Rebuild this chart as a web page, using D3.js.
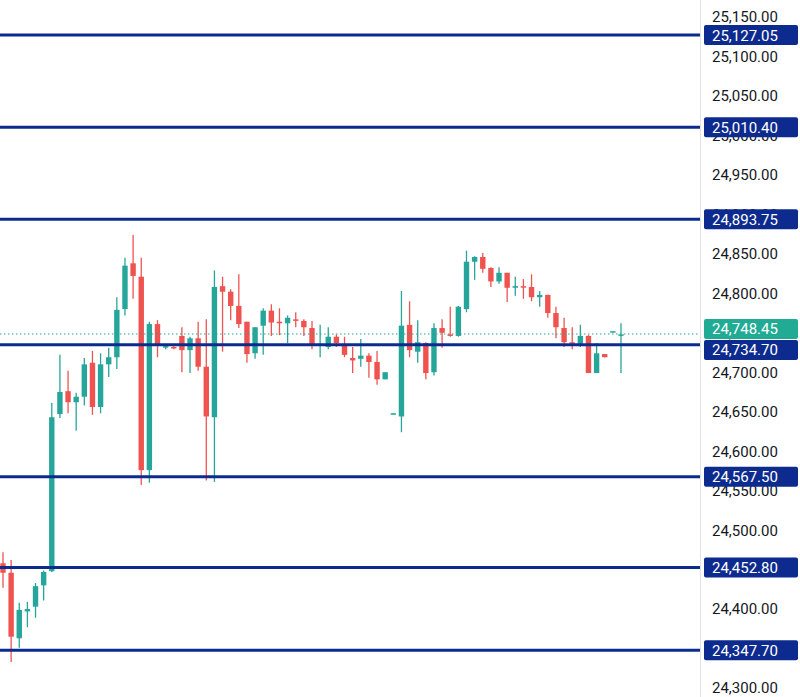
<!DOCTYPE html>
<html>
<head>
<meta charset="utf-8">
<script src="https://cdn.jsdelivr.net/npm/d3@7"></script>
<style>
  body { margin: 0; background: #fff; }
  text { font-family: Roboto, "Noto Sans", sans-serif; }
</style>
</head>
<body>
<svg id="chart" width="800" height="697"></svg>
<script>
// candles: [open, high, low, close]
var opens  = [24458,24446,24363,24397,24403,24430,24448,24647,24676,24662,24669,24712,24656,24710,24719,24780,24838,24821,24576,24761,24732,24732,24746,24728,24743,24707,24643,24809,24802,24784,24764,24724,24759,24778,24764,24762,24767,24765,24756,24734,24732,24745,24736,24718,24717,24721,24713,24691,24647,24644,24760,24726,24737,24700,24756,24748,24746,24780,24840,24846,24832,24815,24826,24807,24809,24808,24795,24798,24775,24756,24738,24736,24746,24699,24723,24751,24747];
var highs  = [24472,24462,24408,24409,24433,24449,24661,24722,24702,24674,24718,24727,24724,24731,24795,24845,24874,24845,24764,24766,24736,24733,24757,24745,24764,24767,24829,24821,24805,24824,24764,24757,24781,24786,24781,24772,24776,24767,24765,24760,24757,24748,24745,24732,24742,24724,24727,24700,24648,24803,24790,24766,24738,24762,24767,24783,24784,24854,24847,24851,24833,24833,24826,24821,24818,24824,24803,24798,24783,24769,24757,24760,24747,24737,24723,24752,24762];
var lows   = [24427,24333,24351,24377,24389,24411,24447,24642,24648,24626,24658,24646,24648,24694,24704,24772,24793,24557,24560,24719,24729,24729,24700,24699,24702,24563,24561,24726,24766,24756,24712,24717,24722,24746,24747,24737,24757,24746,24729,24719,24729,24732,24719,24699,24707,24693,24684,24691,24647,24624,24719,24712,24691,24696,24731,24745,24745,24776,24817,24826,24808,24812,24789,24797,24793,24790,24783,24769,24743,24732,24729,24732,24699,24699,24719,24751,24699];
var closes = [24446,24365,24399,24400,24429,24447,24643,24675,24662,24669,24710,24656,24710,24719,24779,24835,24822,24576,24761,24734,24733,24731,24728,24743,24707,24644,24808,24802,24784,24761,24723,24757,24778,24763,24762,24769,24766,24757,24734,24736,24745,24737,24722,24715,24721,24713,24691,24700,24648,24759,24728,24738,24699,24756,24750,24746,24783,24840,24846,24831,24815,24826,24807,24809,24808,24795,24798,24775,24757,24738,24736,24746,24699,24724,24719,24752,24748];

var levels = [25127.05, 25010.40, 24893.75, 24734.70, 24567.50, 24452.80, 24347.70];
var lastPrice = 24748.45;
var yTicks = d3.range(24300, 25151, 50);

var UP = "#26a69a", DOWN = "#ef5350", NAVY = "#0d2b8e";

var svg = d3.select("#chart");
var plotRight = 700;

var y = d3.scaleLinear().domain([24300, 25150]).range([688, 17]);
var x = d3.scaleLinear().domain([0, opens.length - 1]).range([3, 621]);
var fmt = d3.format(",.2f");

// price axis
svg.append("line")
  .attr("x1", plotRight + 0.5).attr("x2", plotRight + 0.5)
  .attr("y1", 0).attr("y2", 697)
  .style("stroke", "#e0e3eb");

svg.selectAll(".tick-label")
  .data(yTicks).join("text")
  .attr("class", "tick-label")
  .attr("x", 712)
  .attr("y", d => y(d))
  .attr("dy", "0.36em")
  .style("font-size", "15px")
  .style("fill", "#131722")
  .text(d => fmt(d));

// candles
var idx = d3.range(opens.length);
svg.selectAll(".wick")
  .data(idx).join("line")
  .attr("class", "wick")
  .attr("x1", i => x(i)).attr("x2", i => x(i))
  .attr("y1", i => y(highs[i])).attr("y2", i => y(lows[i]))
  .style("stroke", i => closes[i] >= opens[i] ? UP : DOWN)
  .style("stroke-width", 1.3);

svg.selectAll(".body")
  .data(idx).join("rect")
  .attr("class", "body")
  .attr("x", i => x(i) - 2.7)
  .attr("width", 5.4)
  .attr("y", i => y(Math.max(opens[i], closes[i])))
  .attr("height", i => Math.max(1.5, Math.abs(y(opens[i]) - y(closes[i]))))
  .style("fill", i => closes[i] >= opens[i] ? UP : DOWN);

// current price line
svg.append("line")
  .attr("x1", 0).attr("x2", plotRight)
  .attr("y1", y(lastPrice)).attr("y2", y(lastPrice))
  .style("stroke", UP)
  .style("stroke-width", 1)
  .style("stroke-dasharray", "1.5,2.5");

// level lines
svg.selectAll(".level")
  .data(levels).join("line")
  .attr("class", "level")
  .attr("x1", 0).attr("x2", plotRight)
  .attr("y1", d => y(d)).attr("y2", d => y(d))
  .style("stroke", NAVY)
  .style("stroke-width", 3);

// axis labels for levels + current price; push apart labels that collide
var tags = levels.map(v => ({ v: v, c: NAVY })).concat([{ v: lastPrice, c: "#22ab94" }]);
tags.forEach(d => { d.ty = y(d.v); });
var cur = tags[tags.length - 1];
tags.forEach(d => {
  if (d !== cur && Math.abs(d.ty - cur.ty) < 21) {
    var mid = (d.ty + cur.ty) / 2;
    if (d.ty > cur.ty) { d.ty = mid + 10.5; cur.ty = mid - 10.5; }
    else { d.ty = mid - 10.5; cur.ty = mid + 10.5; }
  }
});
var tag = svg.selectAll(".tag").data(tags).join("g")
  .attr("class", "tag")
  .attr("transform", d => "translate(704," + d.ty + ")");
tag.append("rect")
  .attr("x", 0).attr("y", -10)
  .attr("width", 94).attr("height", 20)
  .attr("rx", 2)
  .style("fill", d => d.c);
tag.append("text")
  .attr("x", 8).attr("dy", "0.36em")
  .style("font-size", "15px")
  .style("fill", "#fff")
  .text(d => fmt(d.v));
</script>
</body>
</html>
